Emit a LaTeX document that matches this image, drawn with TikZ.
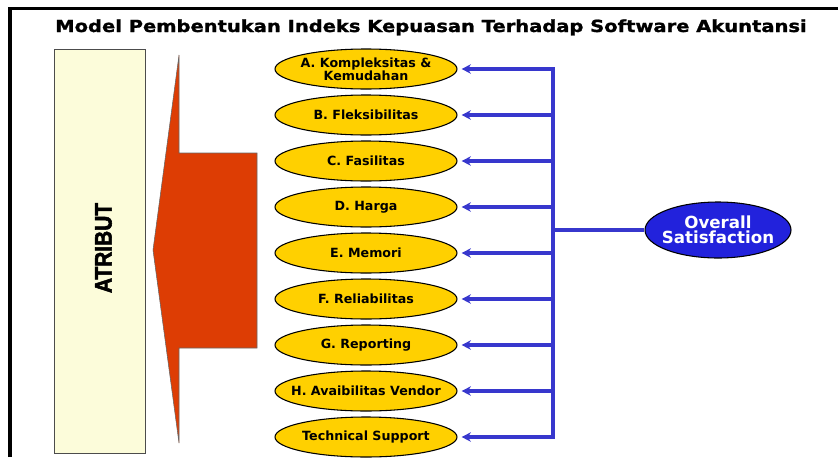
\documentclass[tikz,border=0pt]{standalone}
\usepackage{fontspec}
\newfontfamily\verdanafont{DejaVu Sans}
\newfontfamily\headfont{DejaVu Sans Bold}[FakeBold=1.2]
\newfontfamily\arialfont{Liberation Sans Bold}[FakeBold=2.5]
\usetikzlibrary{positioning}
\usetikzlibrary{arrows.meta}
\usetikzlibrary{shapes.geometric}

\definecolor{barfill}{RGB}{252,252,218}
\definecolor{braceorange}{RGB}{221,61,4}
\definecolor{attrgold}{RGB}{255,208,0}
\definecolor{linkblue}{RGB}{55,55,205}
\definecolor{overallblue}{RGB}{34,34,220}

\tikzset{
  titletext/.style={font=\headfont\fontsize{12.5}{14}\selectfont},
  atrbox/.style={rectangle, draw=black!70, fill=barfill},
  attr/.style={ellipse, draw=black, thick, fill=attrgold, minimum width=136.5pt, minimum height=30pt,
    inner xsep=-9pt, inner ysep=0pt, align=center,
    font=\verdanafont\bfseries\fontsize{9.5}{9.6}\selectfont},
  overall/.style={ellipse, draw=black, thick, fill=overallblue, text=white, minimum width=109.5pt, minimum height=42pt,
    inner xsep=-5pt, inner ysep=0pt, align=center,
    font=\verdanafont\bfseries\fontsize{12.5}{11.5}\selectfont},
  link/.style={draw=linkblue, line width=2.3pt},
}

\begin{document}
\begin{tikzpicture}[x=0.75pt,y=-0.75pt]
  \useasboundingbox (0,0) rectangle (838,457);

  % Frame and title
  \draw[line width=2.6pt] (10,457) |- (838,8.5);
  \node[titletext, anchor=base] (title) at (431,32) {\scalebox{1.17}[1]{Model Pembentukan Indeks Kepuasan Terhadap Software Akuntansi}};

  % Attribute bar
  \node[atrbox, minimum width=68.25pt, minimum height=303pt] (atribut) at (99.5,251) {};
  \node[rotate=90, font=\arialfont\fontsize{17.8}{18}\selectfont] (atrlabel) at (103.5,248) {\scalebox{0.88}[1]{ATRIBUT}};

  % Brace
  \filldraw[fill=braceorange, draw=black!60] (179,55) -- (179,153) -- (257,153) -- (257,348) -- (179,348) -- (179,443) -- (153,250) -- cycle;

  % Attributes
  \node[attr] (a) at (366,69) {A. Kompleksitas \&\\Kemudahan};
  \node[attr, below=3.7pt of a] (b) {B. Fleksibilitas};
  \node[attr, below=3.7pt of b] (c) {C. Fasilitas};
  \node[attr, below=3.7pt of c] (d) {D. Harga};
  \node[attr, below=3.7pt of d] (e) {E. Memori};
  \node[attr, below=3.7pt of e] (f) {F. Reliabilitas};
  \node[attr, below=3.7pt of f] (g) {G. Reporting};
  \node[attr, below=3.7pt of g] (h) {H. Avaibilitas Vendor};
  \node[attr, below=3.7pt of h] (tech) {Technical Support};

  % Overall satisfaction
  \node[overall] (os) at (718,230) {Overall\\Satisfaction};

  % Connectors
  \coordinate (bus) at (553,0);
  \draw[link] (os.west) -- (os.west -| bus);
  \draw[link, line cap=rect] (a.east -| bus) -- (tech.east -| bus);
  \foreach \n in {a,b,c,d,e,f,g,h,tech}
    \draw[link, -{Stealth[length=7pt,width=7pt]}, shorten >=3pt] (\n.east -| bus) -- (\n.east);

\end{tikzpicture}
\end{document}
